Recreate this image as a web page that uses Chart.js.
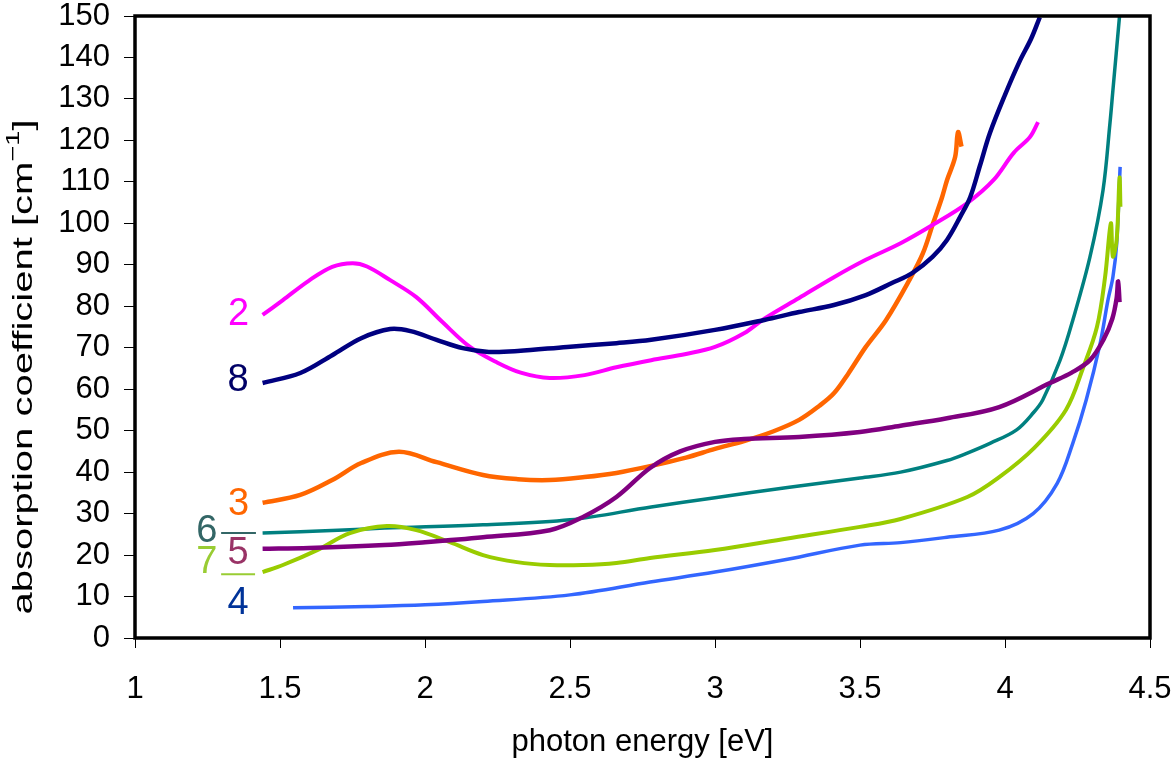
<!DOCTYPE html>
<html>
<head>
<meta charset="utf-8">
<script src="https://cdn.jsdelivr.net/npm/chart.js@4.4.1/dist/chart.umd.min.js"></script>
<style>
html,body{margin:0;padding:0;background:#fff;}
#wrap{width:1174px;height:761px;position:relative;}
</style>
</head>
<body>
<div id="wrap"><canvas id="c" width="1174" height="761"></canvas></div>
<script>
// ---- data (photon energy [eV] / absorption coefficient [cm^-1]) ----
const energy2 = [1.44,1.51,1.6,1.68,1.75,1.8,1.88,1.97,2.06,2.155,2.25,2.33,2.43,2.55,2.66,2.78,2.9,3.0,3.1,3.17,3.29,3.41,3.52,3.64,3.75,3.87,3.96,4.03,4.086,4.114];
const alpha2  = [77.9,81.5,86.2,89.5,90.4,89.6,86.3,82.2,76.2,70.2,66.4,64.0,62.7,63.4,65.3,67.0,68.5,70.2,73.5,77.0,82.0,87.0,91.2,95.2,99.6,104.9,110.4,117,120.8,124.4];

const energy8 = [1.44,1.57,1.68,1.78,1.88,1.95,2.04,2.13,2.22,2.32,2.49,2.66,2.78,3.0,3.17,3.29,3.41,3.52,3.61,3.68,3.75,3.8,3.845,3.88,3.914,3.948,4.0,4.05,4.09,4.12];
const alpha8  = [61.5,63.9,68.2,72.3,74.5,74.0,71.9,69.9,69.0,69.2,70.2,71.1,71.9,74.3,76.7,78.6,80.3,82.7,85.6,88.0,91.9,96.0,101.5,106.3,114,121.8,131,139,144.5,149.7];

const energy3 = [1.44,1.57,1.68,1.78,1.91,2.04,2.2,2.32,2.43,2.55,2.66,2.78,2.9,3.0,3.1,3.2,3.29,3.36,3.41,3.46,3.52,3.59,3.67,3.717,3.752,3.783,3.8,3.828,3.838,3.85];
const alpha3  = [32.6,34.5,38.1,42.2,44.9,42.4,39.3,38.3,38.1,38.8,39.8,41.5,43.5,45.6,47.5,49.8,52.6,56.0,59.0,63.8,70.2,76.7,86.3,92.8,100,106.3,110.4,116,122,118.5];

const energy6 = [1.44,1.7,1.86,2.2,2.5,2.78,3.0,3.25,3.5,3.64,3.8,3.87,3.95,4.04,4.1,4.13,4.19,4.234,4.293,4.338,4.362,4.372,4.395];
const alpha6  = [25.3,26.0,26.5,27.3,28.5,31.6,33.8,36.3,38.6,40,42.8,44.6,47,50.2,54.5,57.4,67,76.7,91.9,108,124.2,132,150];

const energy5 = [1.44,1.6,1.86,2.0,2.2,2.43,2.545,2.66,2.776,2.88,3.0,3.1,3.29,3.5,3.64,3.8,3.98,4.155,4.23,4.293,4.34,4.37,4.385,4.39,4.395];
const alpha5  = [21.5,21.7,22.4,23.1,24.3,26,29.2,34,41,45,47.3,48,48.5,49.7,51.2,53.0,55.7,61.5,64,67,72,77,82,86,81];

const energy7 = [1.44,1.51,1.628,1.741,1.869,1.97,2.086,2.2,2.317,2.43,2.545,2.66,2.776,3.0,3.25,3.5,3.64,3.87,3.98,4.1,4.21,4.27,4.317,4.345,4.365,4.372,4.385,4.395,4.398];
const alpha7  = [15.9,17.6,21.2,25.3,27.0,26.0,23.1,20.0,18.3,17.6,17.6,18.1,19.3,21.2,24,26.8,28.7,34,38.8,45.8,55,65.3,75,87,100,92,96,111,104];

const energy4 = [1.545,1.8,2.0,2.2,2.5,2.776,3.0,3.25,3.5,3.64,3.8,3.98,4.097,4.18,4.234,4.28,4.328,4.355,4.372,4.385,4.397];
const alpha4  = [7.3,7.6,8.0,8.8,10.4,13.5,15.9,19.0,22.4,23.0,24.3,26.0,30.0,37.3,47.0,57.4,71.0,81.5,87,95,113.6];

const xTicks = [1,1.5,2,2.5,3,3.5,4,4.5];
const yTicks = [0,10,20,30,40,50,60,70,80,90,100,110,120,130,140,150];

// curve labels (sample number, anchored in data coordinates)
const curveLabels = [
  {text:'2', x:1.357, y:78.1, color:'#FF00FF'},
  {text:'8', x:1.355, y:62.0, color:'#000066'},
  {text:'3', x:1.357, y:32.3, color:'#FF6600'},
  {text:'6', x:1.248, y:25.8, color:'#336666', line:[1.297,1.417,25.3]},
  {text:'5', x:1.355, y:20.3, color:'#993366'},
  {text:'7', x:1.248, y:18.1, color:'#99CC33', line:[1.297,1.414,15.4]},
  {text:'4', x:1.355, y:8.2,  color:'#003399'}
];

const FONT = '"Liberation Sans", Arial, sans-serif';

function pts(xs, ys){ return xs.map((x,i)=>({x:x, y:ys[i]})); }

const series = [
  {name:'5', xs:energy5, ys:alpha5, color:'#800080', w:4.5},
  {name:'7', xs:energy7, ys:alpha7, color:'#99CC00', w:4},
  {name:'4', xs:energy4, ys:alpha4, color:'#3366FF', w:3.5},
  {name:'6', xs:energy6, ys:alpha6, color:'#008080', w:3.5},
  {name:'8', xs:energy8, ys:alpha8, color:'#000080', w:4.5},
  {name:'2', xs:energy2, ys:alpha2, color:'#FF00FF', w:4},
  {name:'3', xs:energy3, ys:alpha3, color:'#FF6600', w:4.5}
];

const datasets = series.map(s => ({
  label: s.name,
  data: pts(s.xs, s.ys),
  borderColor: s.color,
  backgroundColor: s.color,
  borderWidth: s.w,
  pointRadius: 0,
  fill: false,
  tension: 0.35,
  clip: 3
}));

const framePlugin = {
  id:'frame',
  afterDatasetsDraw(chart){
    const {ctx, chartArea:a} = chart;
    ctx.save();
    ctx.strokeStyle = '#000';
    ctx.lineWidth = 3.5;
    ctx.strokeRect(a.left, a.top, a.right - a.left, a.bottom - a.top);
    ctx.restore();
  }
};

const labelPlugin = {
  id:'curveLabels',
  afterDraw(chart){
    const {ctx} = chart;
    const xs = chart.scales.x, ys = chart.scales.y;
    ctx.save();
    ctx.font = '38px ' + FONT;
    ctx.textAlign = 'center';
    ctx.textBaseline = 'middle';
    curveLabels.forEach(l => {
      ctx.fillStyle = l.color;
      ctx.fillText(l.text, xs.getPixelForValue(l.x), ys.getPixelForValue(l.y));
      if (l.line) {
        ctx.strokeStyle = l.color;
        ctx.lineWidth = 2;
        ctx.beginPath();
        const py = ys.getPixelForValue(l.line[2]);
        ctx.moveTo(xs.getPixelForValue(l.line[0]), py);
        ctx.lineTo(xs.getPixelForValue(l.line[1]), py);
        ctx.stroke();
      }
    });
    // y axis title (stretched along its length like the original)
    const F = 28;
    const main = 'absorption coefficient [cm';
    const sup = '\u22121';
    const end = ']';
    ctx.fillStyle = '#000';
    ctx.font = F + 'px ' + FONT;
    const w1 = ctx.measureText(main).width;
    const w3 = ctx.measureText(end).width;
    ctx.font = Math.round(F*0.68) + 'px ' + FONT;
    const w2 = ctx.measureText(sup).width;
    const total = w1 + w2 + w3;
    const target = 495;
    ctx.translate(24, 367);
    ctx.rotate(-Math.PI/2);
    ctx.scale(target/total, 1);
    ctx.textAlign = 'left';
    ctx.textBaseline = 'middle';
    let x0 = -total/2;
    ctx.font = F + 'px ' + FONT;
    ctx.fillText(main, x0, 0);
    ctx.font = Math.round(F*0.68) + 'px ' + FONT;
    ctx.fillText(sup, x0 + w1, -F*0.38);
    ctx.font = F + 'px ' + FONT;
    ctx.fillText(end, x0 + w1 + w2, 0);
    ctx.restore();
  }
};

function zeroPad(scale){
  scale.paddingTop = 0; scale.paddingBottom = 0;
  scale.paddingLeft = 0; scale.paddingRight = 0;
}

new Chart(document.getElementById('c'), {
  type: 'line',
  data: { datasets },
  options: {
    responsive: false,
    animation: false,
    events: [],
    layout: { padding: { top: 16, right: 24, left: 0, bottom: 0 } },
    plugins: { legend: { display: false }, tooltip: { enabled: false } },
    scales: {
      x: {
        type: 'linear',
        min: 1, max: 4.5,
        afterBuildTicks(scale){ scale.ticks = xTicks.map(v => ({value: v})); },
        afterFit(scale){ scale.height = 123; zeroPad(scale); },
        grid: { drawOnChartArea: false, drawTicks: true, tickLength: 10, color: '#000', lineWidth: 1 },
        border: { display: false },
        ticks: { color: '#000', font: { family: FONT, size: 31 }, padding: 23, maxRotation: 0, autoSkip: false,
                 callback: v => String(v) },
        title: { display: true, text: 'photon energy [eV]', color: '#000',
                 font: { family: FONT, size: 31, lineHeight: 1 }, padding: { top: 0, bottom: 3 } }
      },
      y: {
        type: 'linear',
        min: 0, max: 150,
        afterBuildTicks(scale){ scale.ticks = yTicks.map(v => ({value: v})); },
        afterFit(scale){ scale.width = 135; zeroPad(scale); },
        grid: { drawOnChartArea: false, drawTicks: true, tickLength: 11, color: '#000', lineWidth: 1 },
        border: { display: false },
        ticks: { color: '#000', font: { family: FONT, size: 31 }, padding: 14, autoSkip: false,
                 callback: v => String(v) }
      }
    }
  },
  plugins: [framePlugin, labelPlugin]
});
</script>
</body>
</html>
